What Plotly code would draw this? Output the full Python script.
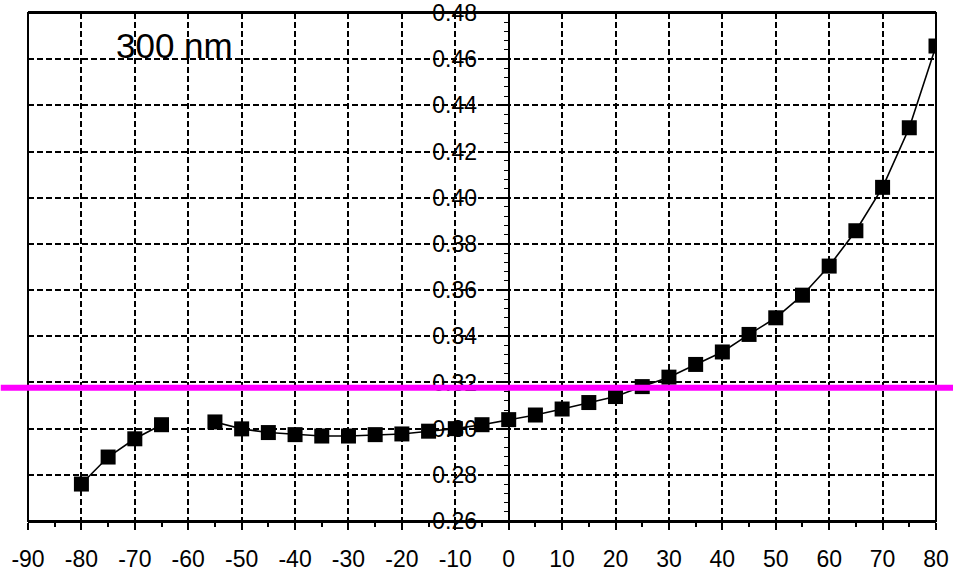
import plotly.graph_objects as go

# Data
angles = [-80, -75, -70, -65, -60, -55, -50, -45, -40, -35, -30, -25, -20, -15, -10, -5,
          0, 5, 10, 15, 20, 25, 30, 35, 40, 45, 50, 55, 60, 65, 70, 75, 80]
values = [0.2760, 0.2877, 0.2956, 0.3017, None, 0.3029, 0.2999, 0.2983, 0.2974, 0.2968,
          0.2968, 0.2974, 0.2977, 0.2989, 0.3000, 0.3017,
          0.3039, 0.3059, 0.3085, 0.3113, 0.3139, 0.3182, 0.3223, 0.3278, 0.3332, 0.3408,
          0.3480, 0.3578, 0.3704, 0.3857, 0.4045, 0.4303, 0.4657]
ref_level = 0.3177
label_text = "300 nm"

x_range = [-90, 80]
y_range = [0.26, 0.48]
x_ticks = list(range(-90, 81, 10))
y_ticks = [0.26, 0.28, 0.30, 0.32, 0.34, 0.36, 0.38, 0.40, 0.42, 0.44, 0.46, 0.48]
y_ticklabels = ["%.2f" % v for v in y_ticks]

FONT = "Liberation Sans, Arial, sans-serif"

fig = go.Figure()
fig.add_trace(go.Scatter(
    x=angles, y=values, mode="lines+markers", connectgaps=False,
    line=dict(color="black", width=1.6),
    marker=dict(symbol="square", size=15, color="black"),
    showlegend=False, hoverinfo="x+y",
))

yaxis_pos = (0 - x_range[0]) / (x_range[1] - x_range[0])

fig.update_layout(
    width=953, height=574,
    margin=dict(l=28, r=17, t=13, b=53, autoexpand=False),
    paper_bgcolor="white", plot_bgcolor="white",
    font=dict(family=FONT, color="black", size=23),
    xaxis=dict(
        range=x_range, tickvals=x_ticks, ticktext=[str(v) for v in x_ticks],
        showline=True, linecolor="black", linewidth=2, mirror=True,
        ticks="outside", ticklen=7, tickwidth=1.5, tickcolor="black",
        minor=dict(dtick=5, ticks="outside", ticklen=4, tickwidth=1.5, tickcolor="black", showgrid=False),
        showgrid=True, gridcolor="black", gridwidth=1.5, griddash="6px,3px",
        zeroline=False, tickfont=dict(size=23, family=FONT),
        ticklabelstandoff=9, automargin=False,
    ),
    yaxis=dict(
        range=y_range, anchor="free", position=yaxis_pos,
        tickvals=y_ticks, ticktext=y_ticklabels,
        showline=True, linecolor="black", linewidth=2,
        ticks="outside", ticklen=6, tickwidth=1.5, tickcolor="black",
        minor=dict(dtick=0.004, ticks="outside", ticklen=4, tickwidth=1.2, tickcolor="black", showgrid=False),
        showgrid=True, gridcolor="black", gridwidth=1.5, griddash="6px,3px",
        zeroline=False, tickfont=dict(size=23, family=FONT),
        ticklabelstandoff=20, automargin=False,
    ),
)

# plot frame (left / right borders)
fig.add_shape(type="rect", xref="paper", yref="paper", x0=0, x1=1, y0=0, y1=1,
              line=dict(color="black", width=2), fillcolor="rgba(0,0,0,0)", layer="above")

fig.add_shape(type="line", xref="paper", yref="y", x0=-0.03, x1=1.02,
              y0=ref_level, y1=ref_level, line=dict(color="#ff00ff", width=6), layer="above")

fig.add_annotation(x=-62.5, y=0.4658, xref="x", yref="y", text=label_text,
                   showarrow=False, font=dict(size=35, family=FONT, color="black"))

fig.write_html("out.html", config={"displayModeBar": False},
               post_script="document.body.style.margin='0';")
